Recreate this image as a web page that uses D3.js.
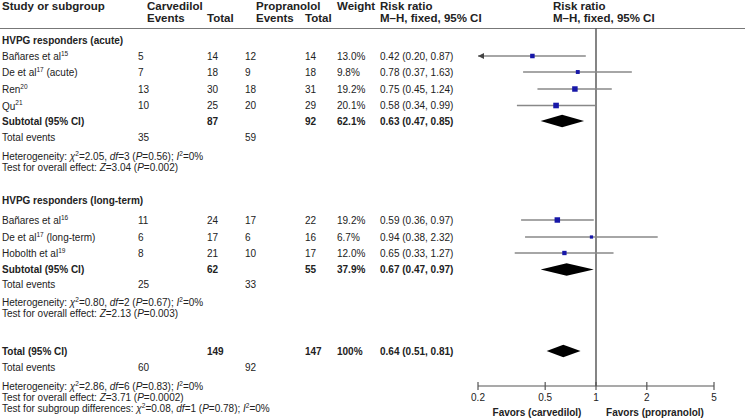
<!DOCTYPE html>
<html><head><meta charset="utf-8">
<script src="https://cdn.jsdelivr.net/npm/d3@7"></script>
<style>
body{margin:0;background:#fff;}
svg text{font-family:"Liberation Sans",Arial,sans-serif;fill:#222;}
</style></head>
<body><div id="chart"></div>
<script>
// ---------- data ----------
const groups = ["HVPG responders (acute)", "HVPG responders (long-term)"];
const studyGroup = [0, 0, 0, 0, 1, 1, 1];
const studyNames = ["Bañares et al", "De et al", "Ren", "Qu", "Bañares et al", "De et al", "Hobolth et al"];
const studyRefs = ["15", "17", "20", "21", "16", "17", "19"];
const studySuffix = ["", " (acute)", "", "", "", " (long-term)", ""];
const carvEvents = [5, 7, 13, 10, 11, 6, 8];
const carvTotal = [14, 18, 30, 25, 24, 17, 21];
const propEvents = [12, 9, 18, 20, 17, 6, 10];
const propTotal = [14, 18, 31, 29, 22, 16, 17];
const weights = [13.0, 9.8, 19.2, 20.1, 19.2, 6.7, 12.0];
const rr = [0.42, 0.78, 0.75, 0.58, 0.59, 0.94, 0.65];
const rrLo = [0.20, 0.37, 0.45, 0.34, 0.36, 0.38, 0.33];
const rrHi = [0.87, 1.63, 1.24, 0.99, 0.97, 2.32, 1.27];

const subLabels = ["Subtotal (95% CI)", "Subtotal (95% CI)", "Total (95% CI)"];
const subCarvTotal = [87, 62, 149];
const subPropTotal = [92, 55, 147];
const subWeight = ["62.1%", "37.9%", "100%"];
const subRR = [0.63, 0.67, 0.64];
const subLo = [0.47, 0.47, 0.51];
const subHi = [0.85, 0.97, 0.81];
const subCarvEvents = [35, 25, 60];
const subPropEvents = [59, 33, 92];
// heterogeneity stats: chi2, df, P, I2 ; overall effect Z, P
const hetChi = ["2.05", "0.80", "2.86"];
const hetDf = ["3", "2", "6"];
const hetP = ["0.56", "0.67", "0.83"];
const hetI = ["0%", "0%", "0%"];
const effZ = ["3.04", "2.13", "3.71"];
const effP = ["0.002", "0.003", "0.0002"];
const subgroupDiff = {chi: "0.08", df: "1", p: "0.78", i: "0%"};

const axisTicks = [0.2, 0.5, 1, 2, 5];
const axisTickLabels = ["0.2", "0.5", "1", "2", "5"];

// ---------- layout ----------
const W = 745, H = 419;
const FS = 10;      // body text
const HFS = 11.5;   // column headers
const svg = d3.select("#chart").append("svg").attr("width", W).attr("height", H);

const x = d3.scaleLog().domain([0.2, 5]).range([478, 714]);
const col = {study: 2, ce: 138, ceH: 147, ct: 207, pe: 245, peH: 256, pt: 305, w: 337, rr: 380, plot: 553};

// row centers
const rowY = {
  groupHead: [40.5, 200.5],
  study: [56, 72, 89, 105.5, 220, 237, 253],
  sub: [121, 269.5, 351],
  totEv: [137, 284, 367],
  het: [156, 302, 386.3],
  eff: [166.5, 312.5, 397],
  diff: 408
};

function txt(xp, yp, s, opts = {}) {
  const t = svg.append("text").attr("x", xp).attr("y", yp)
    .attr("dominant-baseline", "central")
    .style("font-size", (opts.size || FS) + "px");
  if (opts.bold) t.style("font-weight", "bold");
  if (opts.anchor) t.attr("text-anchor", opts.anchor);
  if (s !== null) t.text(s);
  return t;
}
// rich text: parts = [[text, style]] style: "i" italic, "sup" superscript
function rich(xp, yp, parts, opts = {}) {
  const t = txt(xp, yp, null, opts);
  let shifted = false;
  parts.forEach(([s, st]) => {
    const sp = t.append("tspan").text(s);
    if (st === "i") sp.style("font-style", "italic");
    if (st === "sup") {
      sp.style("font-size", "6.5px").attr("dy", -3.5);
      shifted = true;
    } else if (shifted) {
      sp.attr("dy", 3.5); shifted = false;
    }
  });
  return t;
}

// header
const hb = {bold: true, size: HFS};
txt(col.study, 6, "Study or subgroup", hb);
txt(col.ceH, 6, "Carvedilol", hb);
txt(col.ceH, 17.5, "Events", hb);
txt(col.ct, 17.5, "Total", hb);
txt(col.peH, 6, "Propranolol", hb);
txt(col.peH, 17.5, "Events", hb);
txt(col.pt, 17.5, "Total", hb);
txt(col.w, 6, "Weight", hb);
txt(col.rr, 6, "Risk ratio", hb);
txt(col.rr, 17.5, "M–H, fixed, 95% CI", hb);
txt(col.plot, 6, "Risk ratio", hb);
txt(col.plot, 17.5, "M–H, fixed, 95% CI", hb);

svg.append("line").attr("x1", 0).attr("x2", W).attr("y1", 28.5).attr("y2", 28.5)
  .attr("stroke", "#777").attr("stroke-width", 1);

// line of no effect
svg.append("line").attr("x1", x(1)).attr("x2", x(1)).attr("y1", 28.5).attr("y2", 386)
  .attr("stroke", "#333").attr("stroke-width", 1.2);

// group headers
groups.forEach((g, i) => txt(col.study, rowY.groupHead[i], g, {bold: true}));

const f2 = d3.format(".2f");
// studies
studyNames.forEach((n, i) => {
  const y = rowY.study[i];
  rich(col.study, y, [[n, ""], [studyRefs[i], "sup"], [studySuffix[i], ""]]);
  txt(col.ce, y, carvEvents[i]);
  txt(col.ct, y, carvTotal[i]);
  txt(col.pe, y, propEvents[i]);
  txt(col.pt, y, propTotal[i]);
  txt(col.w, y, weights[i].toFixed(1) + "%");
  txt(col.rr, y, `${f2(rr[i])} (${f2(rrLo[i])}, ${f2(rrHi[i])})`);
  // CI line
  const lo = Math.max(rrLo[i], x.domain()[0]);
  svg.append("line").attr("x1", x(lo)).attr("x2", x(rrHi[i])).attr("y1", y).attr("y2", y)
    .attr("stroke", "#888").attr("stroke-width", 1.5);
  if (rrLo[i] <= x.domain()[0]) {
    const ax = x(x.domain()[0]);
    svg.append("path").attr("d", `M${ax},${y} L${ax + 6},${y - 3} L${ax + 6},${y + 3} Z`).attr("fill", "#444");
  }
  const s = 1.25 * Math.sqrt(weights[i]);
  svg.append("rect").attr("x", x(rr[i]) - s / 2).attr("y", y - s / 2).attr("width", s).attr("height", s)
    .attr("fill", "#1717a8");
});

// subtotals
subLabels.forEach((l, i) => {
  const y = rowY.sub[i];
  txt(col.study, y, l, {bold: true});
  txt(col.ct, y, subCarvTotal[i], {bold: true});
  txt(col.pt, y, subPropTotal[i], {bold: true});
  txt(col.w, y, subWeight[i], {bold: true});
  txt(col.rr, y, `${f2(subRR[i])} (${f2(subLo[i])}, ${f2(subHi[i])})`, {bold: true});
  const h = 6.3;
  svg.append("path")
    .attr("d", `M${x(subLo[i])},${y} L${x(subRR[i])},${y - h} L${x(subHi[i])},${y} L${x(subRR[i])},${y + h} Z`)
    .attr("fill", "#000");
  const ty = rowY.totEv[i];
  txt(col.study, ty, "Total events");
  txt(col.ce, ty, subCarvEvents[i]);
  txt(col.pe, ty, subPropEvents[i]);
  rich(col.study, rowY.het[i], [["Heterogeneity: ", ""], ["χ", "i"], ["2", "sup"], ["=" + hetChi[i] + ", ", ""],
    ["df", "i"], ["=" + hetDf[i] + " (", ""], ["P", "i"], ["=" + hetP[i] + "); ", ""], ["I", "i"], ["2", "sup"], ["=" + hetI[i], ""]]);
  rich(col.study, rowY.eff[i], [["Test for overall effect: ", ""], ["Z", "i"], ["=" + effZ[i] + " (", ""], ["P", "i"], ["=" + effP[i] + ")", ""]]);
});
rich(col.study, rowY.diff, [["Test for subgroup differences: ", ""], ["χ", "i"], ["2", "sup"], ["=" + subgroupDiff.chi + ", ", ""],
  ["df", "i"], ["=" + subgroupDiff.df + " (", ""], ["P", "i"], ["=" + subgroupDiff.p + "); ", ""], ["I", "i"], ["2", "sup"], ["=" + subgroupDiff.i, ""]]);

// axis
const axisY = 386;
const ax = svg.append("g").attr("transform", `translate(0,${axisY})`);
ax.append("line").attr("x1", x(0.2)).attr("x2", x(5)).attr("stroke", "#555").attr("stroke-width", 1.2);
axisTicks.forEach((v, i) => {
  ax.append("line").attr("x1", x(v)).attr("x2", x(v)).attr("y1", -4).attr("y2", 4).attr("stroke", "#555").attr("stroke-width", 1.2);
  txt(x(v), axisY + 11.5, axisTickLabels[i], {anchor: "middle"});
});
txt(537, 412.5, "Favors (carvedilol)", {bold: true, anchor: "middle"});
txt(655, 412.5, "Favors (propranolol)", {bold: true, anchor: "middle"});
</script></body></html>
